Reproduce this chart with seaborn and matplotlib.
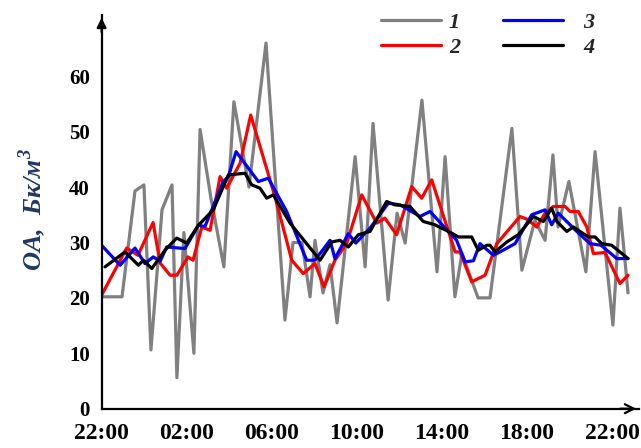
import matplotlib
matplotlib.use("Agg")
import matplotlib.pyplot as plt
from matplotlib.lines import Line2D
from matplotlib.ticker import MultipleLocator
import seaborn as sns
import pandas as pd

# ---- data: hours after 22:00 and activity values ----
t1 = [0.0, 0.96, 1.57, 1.99, 2.32, 2.84, 3.31, 3.54, 3.87, 4.34, 4.63, 5.14, 5.75, 6.22,
      6.93, 7.73, 8.62, 9.0, 9.42, 9.80, 10.03, 10.41, 10.74, 11.07, 11.92, 12.39, 12.76,
      13.47, 13.89, 14.27, 15.06, 15.77, 16.15, 16.61, 16.94, 17.70, 18.26, 19.29, 19.76,
      20.37, 20.85, 21.22, 21.46, 21.97, 22.77, 23.20, 24.04, 24.37, 24.75]
v1 = [20.2, 20.2, 39.3, 40.4, 10.6, 35.9, 40.4, 5.6, 31.8, 10.0, 50.4, 38.0, 25.6, 55.4,
      40.0, 66.0, 16.0, 30.0, 30.0, 20.2, 30.4, 20.9, 26.0, 15.5, 45.5, 25.6, 51.5,
      19.6, 35.3, 29.9, 55.7, 24.7, 45.5, 20.2, 28.0, 20.0, 20.0, 50.6, 25.0,
      34.0, 30.4, 45.8, 32.8, 41.0, 24.7, 46.4, 15.1, 36.2, 20.9]

t2 = [0.0, 1.18, 1.71, 2.42, 2.75, 3.22, 3.54, 4.06, 4.30, 4.71, 5.10, 5.57, 5.88, 6.51,
      7.01, 8.15, 8.94, 9.48, 10.03, 10.46, 10.97, 11.52, 12.23, 12.93, 13.32, 13.87,
      14.58, 15.05, 15.52, 16.62, 16.85, 17.40, 18.03, 18.58, 19.67, 20.0, 20.46, 20.85,
      21.24, 21.79, 22.02, 22.41, 22.81, 23.12, 23.67, 24.37, 24.75]
v2 = [20.5, 29.0, 27.7, 33.6, 26.3, 24.1, 24.1, 27.4, 26.8, 32.8, 32.2, 41.9, 39.8, 44.3,
      53.0, 38.3, 26.8, 24.4, 26.2, 22.0, 26.8, 29.8, 38.6, 33.5, 34.4, 31.4,
      40.1, 38.0, 41.3, 28.3, 28.3, 22.9, 24.1, 29.8, 34.7, 34.2, 32.8, 35.3,
      36.5, 36.5, 35.6, 35.6, 32.8, 28.0, 28.2, 22.6, 24.1]

t3 = [0.0, 0.87, 1.57, 2.04, 2.43, 2.75, 3.06, 3.92, 4.55, 4.86, 5.72, 5.96, 6.32, 7.37,
      7.84, 8.70, 9.64, 10.03, 10.74, 10.97, 11.60, 11.95, 12.62, 13.48, 14.03, 14.97,
      15.44, 16.69, 17.09, 17.48, 17.79, 18.42, 18.73, 19.44, 20.22, 20.85, 21.16, 21.47,
      22.34, 22.96, 23.48, 24.22, 24.75]
v3 = [29.5, 25.9, 29.0, 26.2, 27.4, 26.6, 29.2, 28.9, 33.1, 32.9, 41.0, 41.9, 46.4, 41.0,
      41.6, 35.6, 26.8, 26.8, 30.4, 27.1, 31.6, 29.9, 32.6, 37.1, 36.8, 34.7,
      35.6, 30.4, 26.5, 26.7, 29.8, 27.7, 28.3, 29.8, 35.0, 35.9, 33.2, 35.3,
      32.0, 29.8, 29.5, 27.1, 27.1]

t4 = [0.16, 1.10, 1.73, 1.96, 2.36, 2.98, 3.53, 4.0, 4.55, 5.25, 5.96, 6.74, 7.06, 7.45,
      7.76, 8.07, 8.86, 10.27, 10.82, 11.21, 11.60, 12.07, 12.62, 13.40, 13.79, 14.50,
      15.12, 15.67, 16.46, 16.77, 17.40, 17.71, 18.11, 18.26, 18.50, 19.05, 19.59, 20.30,
      20.77, 21.16, 21.40, 21.87, 22.18, 22.88, 23.20, 23.51, 23.98, 24.75]
v4 = [25.6, 28.3, 25.9, 26.8, 25.3, 28.6, 30.8, 29.9, 33.1, 35.9, 42.2, 42.5, 40.4, 39.8,
      38.0, 38.6, 33.5, 26.8, 30.1, 30.4, 29.2, 31.4, 32.0, 37.4, 36.8, 36.5,
      33.8, 33.2, 31.7, 31.0, 31.0, 28.6, 29.5, 29.5, 28.3, 30.1, 31.4, 34.7,
      33.8, 36.2, 33.8, 32.0, 32.8, 31.0, 31.0, 29.8, 29.5, 27.1]

series_names = ["1", "2", "3", "4"]
series_colors = ["#808080", "#ff0000", "#0000ff", "#000000"]
tick_hours = [0, 4, 8, 12, 16, 20, 24]
tick_labels = ["22:00", "02:00", "06:00", "10:00", "14:00", "18:00", "22:00"]
y_ticks = [0, 10, 20, 30, 40, 50, 60]
y_label = "ОА,  Бк/м$^{\\mathbf{3}}$"

frames = []
for name, t, v in zip(series_names, [t1, t2, t3, t4], [v1, v2, v3, v4]):
    frames.append(pd.DataFrame({"t": t, "v": v, "s": name}))
df = pd.concat(frames, ignore_index=True)

sns.set_style("white")
plt.rcParams["font.family"] = ["Liberation Serif", "DejaVu Serif"]
plt.rcParams["mathtext.fontset"] = "custom"
plt.rcParams["mathtext.bf"] = "Liberation Serif:bold:italic"
plt.rcParams["mathtext.rm"] = "Liberation Serif:bold:italic"

W, H = 641, 448
fig = plt.figure(figsize=(W / 100, H / 100), dpi=100)
x0, x1 = 101.6, 639
y0, y1 = 408.7, 15
ax = fig.add_axes([x0 / W, 1 - y0 / H, (x1 - x0) / W, (y0 - y1) / H])

sns.lineplot(data=df, x="t", y="v", hue="s", hue_order=series_names,
             palette=dict(zip(series_names, series_colors)), estimator=None,
             sort=False, linewidth=2.3, legend=False, ax=ax)

ax.set_xlim(0, (x1 - x0) / 21.27)
ax.set_ylim(0, (y0 - y1) / 5.54)
ax.set_xlabel("")
ax.set_ylabel("")

for side in ["top", "right"]:
    ax.spines[side].set_visible(False)
for side in ["left", "bottom"]:
    ax.spines[side].set_linewidth(1.6)
    ax.spines[side].set_color("black")

ax.set_xticks(tick_hours)
ax.set_xticklabels(tick_labels)
ax.xaxis.set_minor_locator(MultipleLocator(2))
ax.set_yticks(y_ticks)
ax.yaxis.set_minor_locator(MultipleLocator(5))
ax.tick_params(axis="both", which="both", direction="inout", length=9,
               width=1.6, color="black")
ax.tick_params(axis="x", which="major", labelsize=17, pad=6)
ax.tick_params(axis="y", which="major", labelsize=15, pad=4)
for lab in ax.get_xticklabels() + ax.get_yticklabels():
    lab.set_fontweight("bold")
    lab.set_color("black")

# axis arrows
ax.annotate("", xy=(1.0, 0), xytext=(0.96, 0), xycoords="axes fraction",
            arrowprops=dict(arrowstyle="->", color="black", lw=1.6,
                            mutation_scale=16), annotation_clip=False)
ax.annotate("", xy=(0, 1.0), xytext=(0, 0.95), xycoords="axes fraction",
            arrowprops=dict(arrowstyle="-|>", color="black", lw=1.6,
                            mutation_scale=14), annotation_clip=False)

fig.text(32 / W, 1 - 210 / H, y_label, rotation=90, ha="center", va="center",
         fontsize=19, fontweight="bold", fontstyle="italic", color="#1f3864")

leg_font = dict(size=16, weight="bold", style="italic")
handles = [Line2D([], [], color=c, lw=2.3) for c in series_colors]
leg1 = ax.legend(handles[:2], series_names[:2], loc="upper left",
                 bbox_to_anchor=(381 / W, 1 - 12 / H), bbox_transform=fig.transFigure,
                 frameon=False, prop=leg_font, handlelength=2.7, handletextpad=0.35,
                 labelspacing=0.2, borderpad=0, borderaxespad=0)
ax.add_artist(leg1)
leg2 = ax.legend(handles[2:], series_names[2:], loc="upper left",
                 bbox_to_anchor=(503 / W, 1 - 12 / H), bbox_transform=fig.transFigure,
                 frameon=False, prop=leg_font, handlelength=2.7, handletextpad=0.9,
                 labelspacing=0.2, borderpad=0, borderaxespad=0)

fig.savefig("out.png", dpi=100)
